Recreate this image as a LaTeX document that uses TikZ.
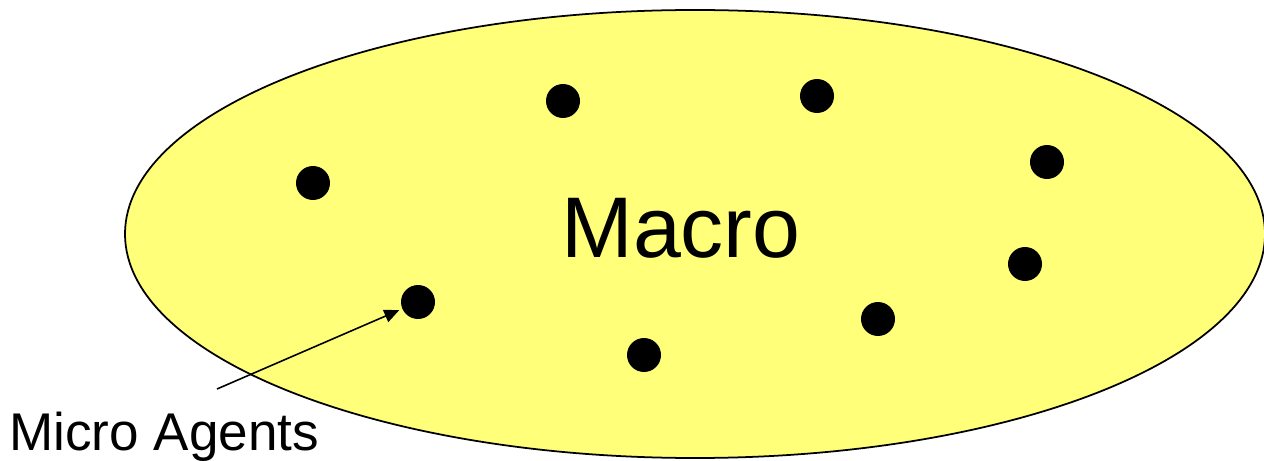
\documentclass[tikz,border=0pt]{standalone}
\usepackage{fontspec}
\setmainfont{Liberation Sans}
\usetikzlibrary{arrows.meta,positioning}
\definecolor{macrofill}{HTML}{FFFF7A}
\tikzset{
  agent/.style={circle, fill=black, inner sep=0pt, minimum size=0.68cm},
  bigtext/.style={inner sep=0pt, anchor=base west, font=\fontsize{49}{51}\selectfont},
  labeltext/.style={inner sep=0pt, anchor=base west, font=\fontsize{30.2}{32}\selectfont},
  arr/.style={-{Triangle[length=0.3cm, width=0.26cm]}, line width=0.9pt, shorten >=0.06cm}
}
\begin{document}
\begin{tikzpicture}[x=0.02cm,y=0.02cm]
  \useasboundingbox (0,0) rectangle (1264,460);
  % the macro level
  \filldraw[fill=macrofill, draw=black, line width=1pt] (695,226) ellipse [x radius=570, y radius=224];
  \node[bigtext] (macro) at (561,202) {Macro};
  % micro agents
  \node[agent] (a1) at (563,359) {};
  \node[agent] (a2) at (817,364) {};
  \node[agent] (a3) at (313,277) {};
  \node[agent] (a4) at (1047,298) {};
  \node[agent] (a5) at (1025,196) {};
  \node[agent] (a6) at (418,158) {};
  \node[agent] (a7) at (878,141) {};
  \node[agent] (a8) at (644,105) {};
  % label
  \node[labeltext] (micro) at (9,10) {Micro Agents};
  \coordinate (tail) at (217,71);
  \draw[arr] (tail) -- (a6);
\end{tikzpicture}
\end{document}
